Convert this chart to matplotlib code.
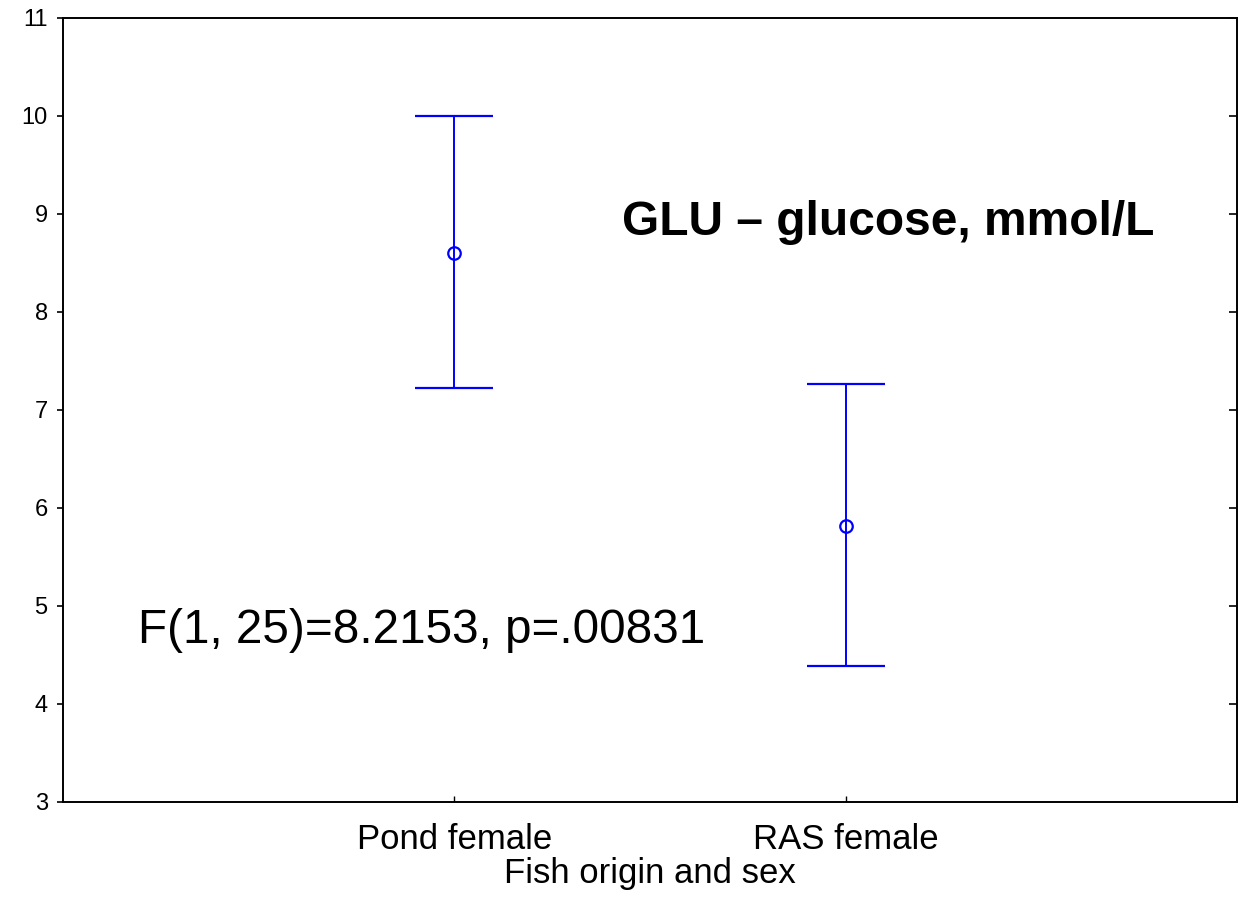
import numpy as np
import matplotlib
matplotlib.use('Agg')
import matplotlib.pyplot as plt

# ── Data ────────────────────────────────────────────────────────────
groups = ['Pond female', 'RAS female']
means  = [8.60, 5.82]
upper  = [10.00, 7.27]
lower  = [7.22, 4.39]

y_ticks = np.arange(3, 12, 1)

plt.rcParams['font.family'] = ['Liberation Sans', 'DejaVu Sans']

fig = plt.figure(figsize=(12.45, 9.18), dpi=100, facecolor='white')
ax = fig.add_axes([63 / 1245, 116 / 918, 1174 / 1245, 784 / 918])

xpos = np.arange(1, len(groups) + 1)
yerr = [np.array(means) - np.array(lower), np.array(upper) - np.array(means)]
ax.errorbar(xpos, means, yerr=yerr, fmt='o', mfc='none', mec='#0000ff',
            ms=9, mew=1.6, ecolor='#0000ff', elinewidth=1.4,
            capsize=28, capthick=1.4, color='#0000ff')

ax.set_xlim(0, 3)
ax.set_ylim(3, 11)
ax.set_xticks(xpos)
ax.set_xticklabels(groups)
ax.set_yticks(y_ticks)
ax.set_yticklabels([str(v) for v in y_ticks])

for s in ax.spines.values():
    s.set_linewidth(1.4)
ax.tick_params(axis='y', which='both', direction='out', length=4, width=1.2,
               labelsize=17, pad=7)
ax.tick_params(axis='x', direction='in', length=4, width=1, labelsize=25, pad=15)
ax.tick_params(axis='y', right=True)
# right side ticks point inward
for t in ax.yaxis.get_major_ticks():
    t.tick2line.set_marker(matplotlib.lines.TICKLEFT)
    t.tick2line.set_markersize(6)

ax.set_xlabel('Fish origin and sex', fontsize=25, labelpad=1)

ax.text(0.476, 0.739, 'GLU \u2013 glucose, mmol/L', transform=ax.transAxes,
        fontsize=34.5, fontweight='bold', va='center', ha='left')
ax.text(0.064, 0.219, 'F(1, 25)=8.2153, p=.00831', transform=ax.transAxes,
        fontsize=34.3, va='center', ha='left')

fig.savefig('out.png', dpi=100, facecolor='white')
